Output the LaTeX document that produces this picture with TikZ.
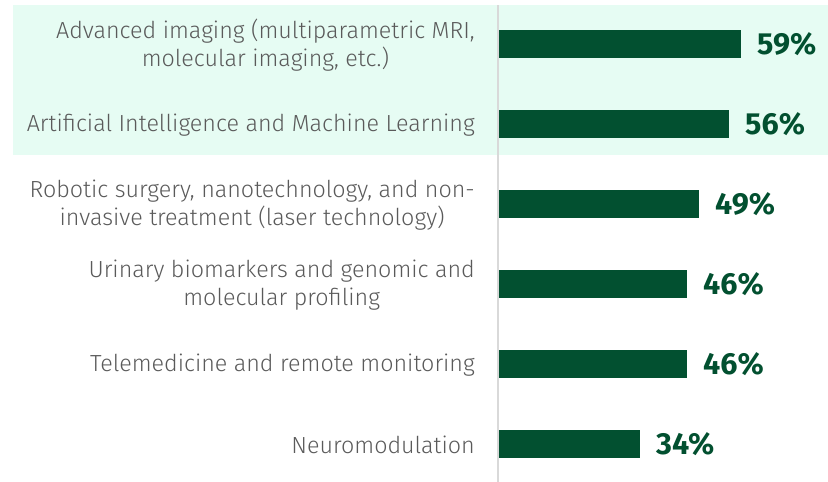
\documentclass[tikz,border=0pt]{standalone}
\usepackage{fontspec}
\setmainfont{Fira Sans}
\newfontfamily\lblfont{Fira Sans Light}
\definecolor{barc}{RGB}{2,80,48}
\definecolor{bgc}{RGB}{230,252,243}
\definecolor{axisc}{RGB}{217,217,217}
\definecolor{txtc}{RGB}{90,90,90}
\begin{document}
\begin{tikzpicture}[x=1pt,y=-1pt,
  lbl/.style={anchor=east, align=center, text=txtc, font=\lblfont\fontsize{23.3}{28}\selectfont, inner sep=0pt},
  barbox/.style={anchor=west, fill=barc, minimum height=28pt, inner sep=0pt, outer sep=0pt},
  pct/.style={anchor=west, text=barc, font=\bfseries\fontsize{30.5}{31}\selectfont, inner sep=0pt},
  axisline/.style={draw=axisc, line width=2pt}]
\useasboundingbox (0,0) rectangle (828,482);
\fill[bgc] (13,5) rectangle (828,155);
\coordinate (atop) at (498,5);
\coordinate (abot) at (498,482);
\draw[axisline] (atop) -- (abot);
% rows
\node[lbl] (l1) at (475,45) {Advanced imaging (multiparametric MRI,\\molecular imaging, etc.)};
\node[lbl] (l2) at (475,125) {Artificial Intelligence and Machine Learning};
\node[lbl] (l3) at (475,205) {Robotic surgery, nanotechnology, and non-\\invasive treatment (laser technology)};
\node[lbl] (l4) at (475,285) {Urinary biomarkers and genomic and\\molecular profiling};
\node[lbl] (l5) at (475,365) {Telemedicine and remote monitoring};
\node[lbl] (l6) at (475,445) {Neuromodulation};
\node[barbox, minimum width=242pt] (b1) at (499,44) {};
\node[barbox, minimum width=230pt] (b2) at (499,124) {};
\node[barbox, minimum width=200pt] (b3) at (499,204) {};
\node[barbox, minimum width=188pt] (b4) at (499,284) {};
\node[barbox, minimum width=188pt] (b5) at (499,364) {};
\node[barbox, minimum width=141pt] (b6) at (499,444) {};
\node[pct] (p1) at ([xshift=16pt]b1.east) {59\%};
\node[pct] (p2) at ([xshift=16pt]b2.east) {56\%};
\node[pct] (p3) at ([xshift=16pt]b3.east) {49\%};
\node[pct] (p4) at ([xshift=16pt]b4.east) {46\%};
\node[pct] (p5) at ([xshift=16pt]b5.east) {46\%};
\node[pct] (p6) at ([xshift=16pt]b6.east) {34\%};
\end{tikzpicture}
\end{document}
